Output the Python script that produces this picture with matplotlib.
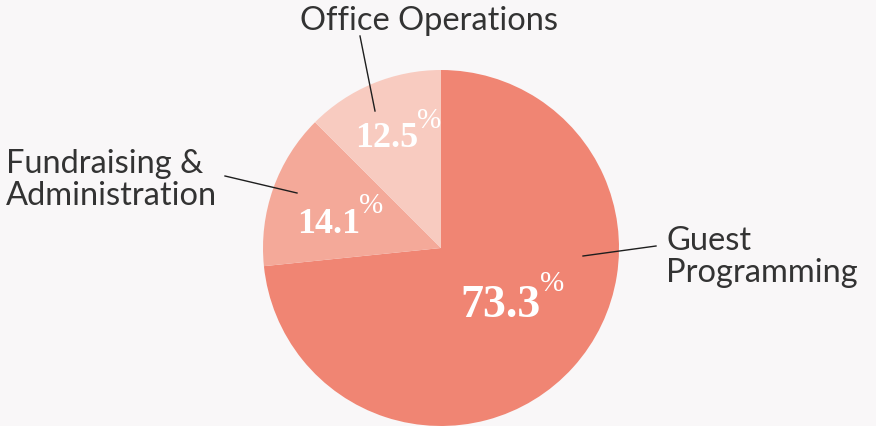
import matplotlib.pyplot as plt

W, H = 876, 427

# data
categories = ["Guest\nProgramming", "Fundraising &\nAdministration", "Office Operations"]
shares = [73.3, 14.1, 12.5]
colors = ["#F08573", "#F4A999", "#F8CBC0"]

bg = "#F9F7F8"
ink = "#333333"
label_font = ["Lato", "DejaVu Sans"]
num_font = ["Liberation Serif", "DejaVu Serif"]

fig = plt.figure(figsize=(W / 100, H / 100), dpi=100, facecolor=bg)
ax = fig.add_axes([0, 0, 1, 1], facecolor=bg)

# y axis runs downward (pixel-like), so angles are mirrored
ax.pie(shares, colors=colors, startangle=-90, counterclock=True,
       center=(441, 249), radius=178, frame=True,
       wedgeprops=dict(linewidth=0))
ax.set_xlim(0, W)
ax.set_ylim(H, 0)
ax.set_aspect("equal")
ax.axis("off")

# percentage labels: (right edge of number, baseline, number size, top of % sign)
pct_pos = [(541, 317, 33, 271), (360, 233, 26, 193), (418, 147, 26, 108)]
for val, (x, y, fs, ytop) in zip(shares, pct_pos):
    ax.text(x, y, "%.1f" % val, ha="right", va="baseline", color="white",
            fontsize=fs, fontweight="bold", family=num_font)
    ax.text(x - 1, ytop, "%", ha="left", va="top", color="white",
            fontsize=21, family=num_font)

# category labels (baseline of last line) and leader lines
label_pos = [(666, 282), (6, 205), (300, 30)]
leaders = [((583, 257), (656, 247)), ((297, 194), (225, 177)), ((375, 112), (360, 37))]
for name, (x, y), (p0, p1) in zip(categories, label_pos, leaders):
    ax.text(x, y, name, ha="left", va="baseline", color=ink, fontsize=23.5,
            fontweight="normal", family=label_font, linespacing=1.1)
    ax.plot([p0[0], p1[0]], [p0[1], p1[1]], color="#1E1E1E", linewidth=1.0)

fig.savefig("out.png", dpi=100, facecolor=bg)
